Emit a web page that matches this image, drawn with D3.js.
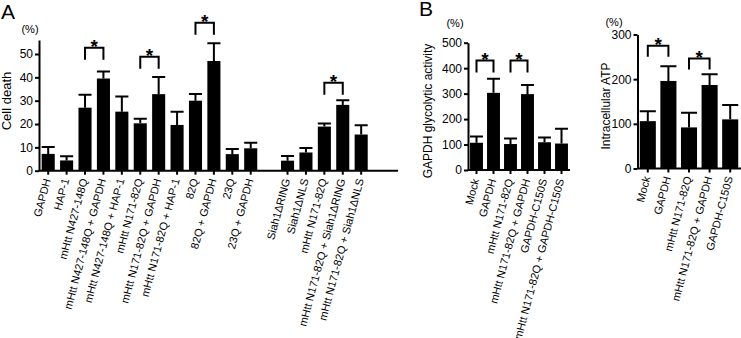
<!DOCTYPE html>
<html>
<head>
<meta charset="utf-8">
<script src="https://cdn.jsdelivr.net/npm/d3@7"></script>
<style>
    body { margin: 0; background: #fff; }
    svg { display: block; font-family: "Liberation Sans", Arial, sans-serif; }
    .axis path, .axis line { stroke: #000; stroke-width: 2; }
    .axis text { fill: #000; }
</style>
</head>
<body>
<div id="chart"></div>
<script>
// panel A - cell death
const labelsA = ["GAPDH", "HAP-1", "mHtt N427-148Q", "mHtt N427-148Q + GAPDH", "mHtt N427-148Q + HAP-1",
    "mHtt N171-82Q", "mHtt N171-82Q + GAPDH", "mHtt N171-82Q + HAP-1", "82Q", "82Q + GAPDH", "23Q", "23Q + GAPDH",
    "", "Siah1\u0394RING", "Siah1\u0394NLS", "mHtt N171-82Q", "mHtt N171-82Q + Siah1\u0394RING", "mHtt N171-82Q + Siah1\u0394NLS"];
const valuesA = [7.2, 4.4, 27, 39.5, 25.3, 20.3, 32.8, 19.6, 30, 47, 7.1, 9.6, null, 4.3, 7.8, 18.9, 28.2, 15.5];
const errorsA = [3, 1.8, 5.5, 3, 6.5, 2, 7.3, 5.7, 2.9, 7.6, 2.2, 2.4, null, 2, 1.9, 1.3, 2, 4];
const sigA = [[2, 3, 52.7], [5, 6, 48.8], [8, 9, 63.4], [15, 16, 37.7]];  // [from, to, bracket height]

// panel B - GAPDH glycolytic activity
const labelsB1 = ["Mock", "GAPDH", "mHtt N171-82Q", "mHtt N171-82Q + GAPDH", "GAPDH-C150S", "mHtt N171-82Q + GAPDH-C150S"];
const valuesB1 = [107, 303, 102, 298, 109, 104];
const errorsB1 = [25, 55, 22, 36, 19, 58];
const sigB1 = [[0, 1, 430], [2, 3, 430]];

// panel B - intracellular ATP
const labelsB2 = ["Mock", "GAPDH", "mHtt N171-82Q", "mHtt N171-82Q + GAPDH", "GAPDH-C150S"];
const valuesB2 = [106, 196, 92, 187, 110];
const errorsB2 = [22, 33, 33, 24, 32];
const sigB2 = [[0, 1, 275], [2, 3, 246]];

const svg = d3.select("#chart").append("svg")
    .attr("width", 741)
    .attr("height", 338);

class BarChart {
    constructor(svg, opts) {
        this.svg = svg;
        this.opts = opts;
        this.initVis();
    }
    initVis() {
        let vis = this;
        let o = vis.opts;

        vis.g = vis.svg.append("g");

        vis.y = d3.scaleLinear()
            .domain([0, o.yMax])
            .range([o.base, o.top]);

        vis.x = d3.scaleBand()
            .domain(d3.range(o.labels.length))
            .range([o.left, o.left + o.step * o.labels.length])
            .paddingInner(o.pad)
            .paddingOuter(o.pad / 2);

        vis.displayData = o.labels.map((d, i) => ({i: i, label: d, value: o.values[i], err: o.errors[i]}))
            .filter(d => d.value !== null);

        vis.updateVis();
    }
    updateVis() {
        let vis = this;
        let o = vis.opts;
        let bw = vis.x.bandwidth();

        // error bars (upper only) drawn first so bars cover the stem
        vis.g.selectAll(".err")
            .data(vis.displayData)
            .enter().append("path")
            .attr("class", "err")
            .attr("fill", "none")
            .attr("stroke", "#000")
            .attr("stroke-width", 2)
            .attr("d", d => {
                let cx = vis.x(d.i) + bw / 2;
                let yt = vis.y(d.value + d.err);
                return "M" + cx + "," + vis.y(d.value) + "V" + yt + "M" + (cx - bw / 2) + "," + yt + "H" + (cx + bw / 2);
            });

        vis.g.selectAll(".bar")
            .data(vis.displayData)
            .enter().append("rect")
            .attr("class", "bar")
            .attr("x", d => vis.x(d.i))
            .attr("width", bw)
            .attr("y", d => vis.y(d.value))
            .attr("height", d => vis.y(0) - vis.y(d.value))
            .attr("fill", "#000");

        // significance brackets
        let legs = o.legs;
        vis.g.selectAll(".sig")
            .data(o.sig)
            .enter().append("path")
            .attr("class", "sig")
            .attr("fill", "none")
            .attr("stroke", "#000")
            .attr("stroke-width", 2)
            .attr("d", d => {
                let x1 = vis.x(d[0]) + bw / 2, x2 = vis.x(d[1]) + bw / 2, yt = vis.y(d[2]);
                return "M" + x1 + "," + (yt + legs) + "V" + yt + "H" + x2 + "V" + (yt + legs);
            });

        vis.g.selectAll(".star")
            .data(o.sig)
            .enter().append("text")
            .attr("class", "star")
            .attr("x", d => (vis.x(d[0]) + vis.x(d[1])) / 2 + bw / 2)
            .attr("y", d => vis.y(d[2]) + 5)
            .attr("text-anchor", "middle")
            .style("font-size", "19px")
            .style("font-weight", "bold")
            .text("*");

        // y axis
        vis.yAxis = d3.axisLeft(vis.y)
            .tickValues(o.yTicks)
            .tickSize(4)
            .tickSizeOuter(0)
            .tickPadding(2);

        vis.g.append("g")
            .attr("class", "axis")
            .attr("transform", "translate(" + o.left + ",0)")
            .call(vis.yAxis)
            .selectAll("text")
            .style("font-size", "12px");

        // x axis
        vis.xAxis = d3.axisBottom(vis.x)
            .tickValues(vis.displayData.map(d => d.i))
            .tickSize(4)
            .tickSizeOuter(0)
            .tickFormat(i => o.labels[i]);

        let xg = vis.g.append("g")
            .attr("class", "axis")
            .attr("transform", "translate(0," + o.base + ")")
            .call(vis.xAxis);

        xg.select(".domain").attr("d", "M" + o.left + ",0H" + o.right);

        xg.selectAll("text")
            .attr("x", 0)
            .attr("y", 0)
            .attr("dy", "0.35em")
            .attr("text-anchor", "end")
            .attr("transform", "translate(-1," + o.labelGap + ") rotate(-75)")
            .style("font-size", "11px");

        // titles
        vis.g.append("text")
            .attr("transform", "translate(" + o.titleX + "," + o.titleY + ") rotate(-90)")
            .attr("text-anchor", "middle")
            .style("font-size", o.titleSize)
            .text(o.title);

        vis.g.append("text")
            .attr("x", o.pctX)
            .attr("y", o.pctY)
            .attr("text-anchor", "middle")
            .style("font-size", "11px")
            .text("(%)");
    }
}

new BarChart(svg, {
    labels: labelsA, values: valuesA, errors: errorsA, sig: sigA,
    left: 39, right: 398, step: 18.41, pad: 0.29, base: 170.7, top: 40, yMax: 56,
    yTicks: [0, 10, 20, 30, 40, 50], legs: 12, labelGap: 8,
    title: "Cell death", titleX: 11, titleY: 101, titleSize: "13px", pctX: 30, pctY: 33
});

new BarChart(svg, {
    labels: labelsB1, values: valuesB1, errors: errorsB1, sig: sigB1,
    left: 468, right: 570, step: 17, pad: 0.24, base: 170, top: 42.7, yMax: 500,
    yTicks: [0, 100, 200, 300, 400, 500], legs: 12, labelGap: 9,
    title: "GAPDH glycolytic activity", titleX: 432, titleY: 111, titleSize: "12px", pctX: 455, pctY: 27
});

new BarChart(svg, {
    labels: labelsB2, values: valuesB2, errors: errorsB2, sig: sigB2,
    left: 637.5, right: 741, step: 20.6, pad: 0.22, base: 168.5, top: 34.5, yMax: 300,
    yTicks: [0, 100, 200, 300], legs: 11, labelGap: 8,
    title: "Intracellular ATP", titleX: 610, titleY: 106, titleSize: "12px", pctX: 614, pctY: 26
});

svg.append("text").attr("x", 1).attr("y", 19).style("font-size", "21px").text("A");
svg.append("text").attr("x", 419).attr("y", 16).style("font-size", "21px").text("B");
</script>
</body>
</html>
